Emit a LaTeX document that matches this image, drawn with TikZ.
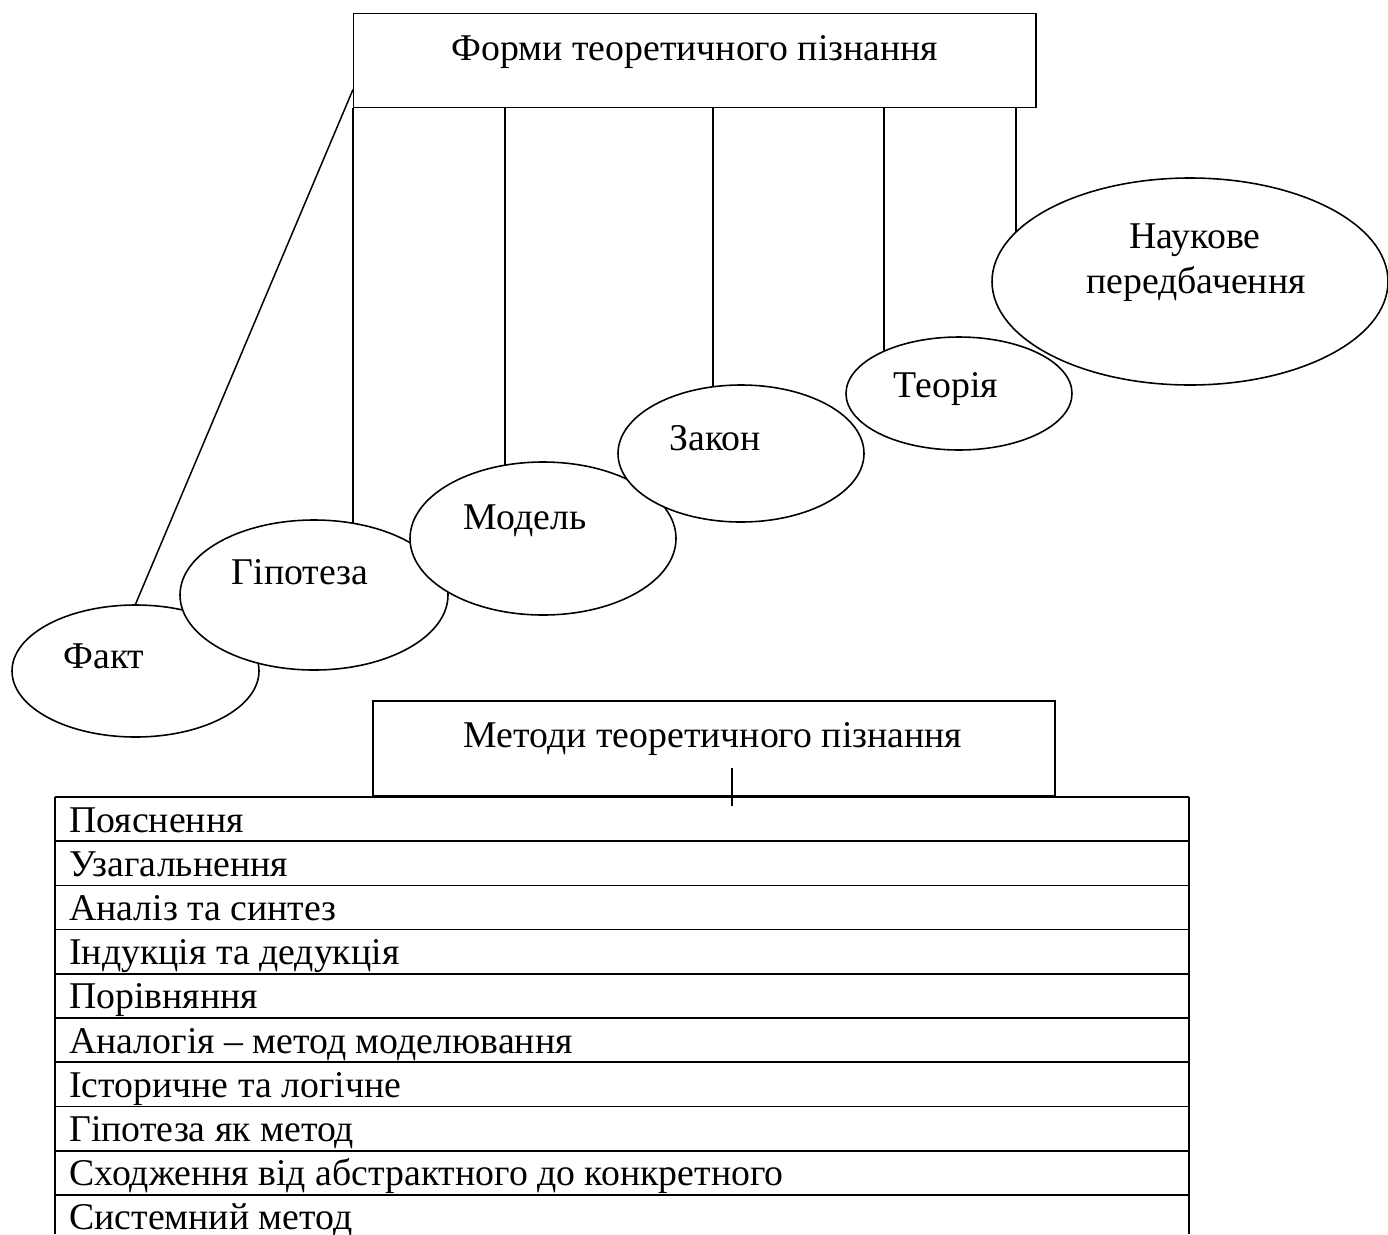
\documentclass[tikz,border=0pt]{standalone}
\usepackage{fontspec}
\setmainfont{Liberation Serif}
\usetikzlibrary{shapes.geometric}
\usetikzlibrary{calc}
\usetikzlibrary{backgrounds}

\newcommand{\pxu}{0.02cm}
\newcommand{\bigtext}{\fontsize{21.5}{26}\selectfont}

\tikzset{
  box/.style={draw, line width=0.85pt, inner sep=0pt, anchor=north west},
  oval/.style={draw, ellipse, fill=white, line width=0.9pt, inner sep=0pt},
  lbl/.style={anchor=base, inner sep=0pt, font=\bigtext},
  rowtext/.style={anchor=base west, inner sep=0pt, font=\bigtext},
  rowline/.style={line width=1pt},
  link/.style={line width=0.85pt}
}

\begin{document}
\begin{tikzpicture}[x=\pxu, y=-\pxu]
  \useasboundingbox (0,0) rectangle (1388,1234);

  % upper box and its forms
  \node [box, minimum width=682*\pxu, minimum height=94*\pxu] (forms) at (353,13) {};
  \node [lbl] (forms-t) at (695,60) {Форми теоретичного пізнання};

  \node [oval, minimum width=247*\pxu, minimum height=132*\pxu] (fact) at (135.5,671) {};
  \node [oval, minimum width=268*\pxu, minimum height=150*\pxu] (hyp) at (314,595) {};
  \node [oval, minimum width=266*\pxu, minimum height=153*\pxu] (model) at (543,538.5) {};
  \node [oval, minimum width=246*\pxu, minimum height=137*\pxu] (law) at (741,453.5) {};
  \node [oval, minimum width=226*\pxu, minimum height=113*\pxu] (theory) at (959,393.5) {};
  \node [oval, minimum width=396*\pxu, minimum height=207*\pxu] (pred) at (1190,281.5) {};

  \node [lbl] (fact-t) at (104,668) {Факт};
  \node [lbl] (hyp-t) at (300,584) {Гіпотеза};
  \node [lbl] (model-t) at (525,529) {Модель};
  \node [lbl] (law-t) at (715,450) {Закон};
  \node [lbl] (theory-t) at (946,397) {Теорія};
  \node [lbl] (pred-t1) at (1195,248) {Наукове};
  \node [lbl] (pred-t2) at (1196,293) {передбачення};

  \begin{scope}[on background layer]
    \path (forms.south west) ++(0,-19) coordinate (diag);
    \draw [link] (diag) -- (fact.north);
    \draw [link] (forms.south west) -- (forms.south west |- hyp.center);
    \foreach \d/\e [count=\i] in {152/model, 360/law, 531/theory, 663/pred} {
      \path (forms.south west) ++(\d,0) coordinate (top\i);
      \draw [link] (top\i) -- (top\i |- \e.center);
    }
  \end{scope}

  % lower box and the list of methods
  \node [box, minimum width=682*\pxu, minimum height=95*\pxu] (methods) at (372,700) {};
  \node [lbl] (methods-t) at (713,747) {Методи теоретичного пізнання};
  \coordinate (mlink) at (732,768);
  \coordinate (mlinkend) at (732,806);
  \draw [link] (mlink) -- (mlinkend);

  \foreach \m [count=\i from 0] in {Пояснення, Узагальнення, Аналіз та синтез,
      Індукція та дедукція, Порівняння, Аналогія – метод моделювання,
      Історичне та логічне, Гіпотеза як метод,
      Сходження від абстрактного до конкретного, Системний метод} {
    \draw [rowline] (55,797+44.2*\i) -- (1188.7,797+44.2*\i);
    \node [rowtext] (m\i) at (69,797+44.2*\i+35) {\m};
  }
  \draw [rowline] (55,797) -- (55,1234);
  \draw [rowline] (1188.7,797) -- (1188.7,1234);
\end{tikzpicture}
\end{document}
